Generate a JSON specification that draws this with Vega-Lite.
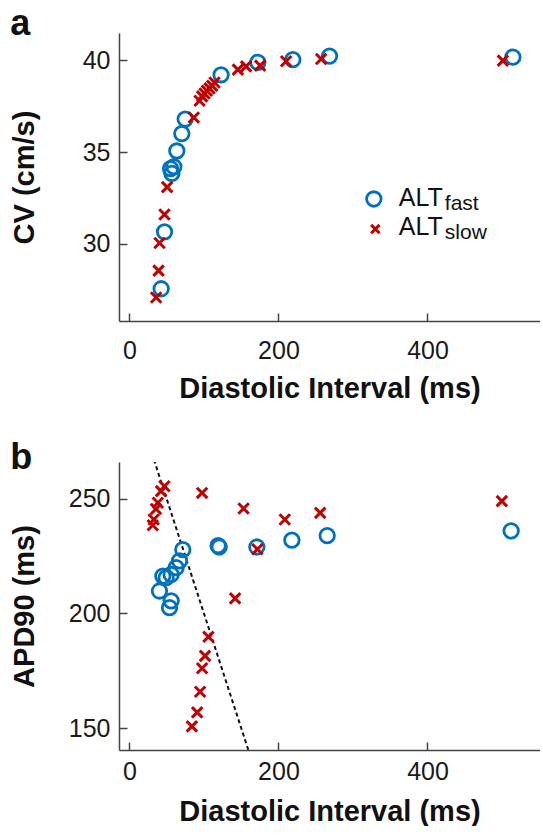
{
  "$schema": "https://vega.github.io/schema/vega-lite/v6.json",
  "padding": {"left": 10, "top": 6, "right": 0, "bottom": 0},
  "background": "white",
  "config": {
    "view": {"stroke": null},
    "font": "Liberation Sans",
    "axis": {
      "grid": false,
      "domainColor": "#444444",
      "domainWidth": 1.5,
      "tickColor": "#444444",
      "tickWidth": 1.5,
      "tickSize": -8,
      "labelFont": "Liberation Sans",
      "labelFontSize": 25,
      "labelColor": "#1a1a1a",
      "labelFlush": false,
      "labelOverlap": false,
      "titleFont": "Liberation Sans",
      "titleFontSize": 29,
      "titleFontWeight": "bold",
      "titleColor": "#111111"
    },
    "title": {"fontSize": 36, "fontWeight": "bold", "color": "#111111", "anchor": "start", "frame": "bounds", "font": "Liberation Sans"}
  },
  "datasets": {
    "cv": [
      {"series": "fast", "DI": 42.6, "CV": 27.54},
      {"series": "fast", "DI": 47.1, "CV": 30.65},
      {"series": "fast", "DI": 55.2, "CV": 34.1},
      {"series": "fast", "DI": 59.6, "CV": 34.2},
      {"series": "fast", "DI": 56.9, "CV": 33.84},
      {"series": "fast", "DI": 63.6, "CV": 35.06},
      {"series": "fast", "DI": 70.3, "CV": 36.01},
      {"series": "fast", "DI": 74.8, "CV": 36.8},
      {"series": "fast", "DI": 123, "CV": 39.22},
      {"series": "fast", "DI": 172.3, "CV": 39.9},
      {"series": "fast", "DI": 219.3, "CV": 40.05},
      {"series": "fast", "DI": 268.6, "CV": 40.24},
      {"series": "fast", "DI": 514.6, "CV": 40.18},
      {"series": "slow", "DI": 35.8, "CV": 27.06},
      {"series": "slow", "DI": 39.1, "CV": 28.53},
      {"series": "slow", "DI": 40.4, "CV": 30.04},
      {"series": "slow", "DI": 47.1, "CV": 31.59},
      {"series": "slow", "DI": 50.6, "CV": 33.09},
      {"series": "slow", "DI": 86.4, "CV": 36.89},
      {"series": "slow", "DI": 94.1, "CV": 37.8},
      {"series": "slow", "DI": 97.6, "CV": 38.04},
      {"series": "slow", "DI": 100.8, "CV": 38.2},
      {"series": "slow", "DI": 103.9, "CV": 38.35},
      {"series": "slow", "DI": 107.5, "CV": 38.48},
      {"series": "slow", "DI": 111, "CV": 38.62},
      {"series": "slow", "DI": 114.2, "CV": 38.8},
      {"series": "slow", "DI": 145.5, "CV": 39.5},
      {"series": "slow", "DI": 156.6, "CV": 39.68},
      {"series": "slow", "DI": 175.4, "CV": 39.72},
      {"series": "slow", "DI": 210.3, "CV": 39.96},
      {"series": "slow", "DI": 257.3, "CV": 40.08},
      {"series": "slow", "DI": 501.2, "CV": 39.99}
    ],
    "apd": [
      {"series": "fast", "DI": 40.3, "APD": 209.8},
      {"series": "fast", "DI": 44.8, "APD": 216.3},
      {"series": "fast", "DI": 49.3, "APD": 215.6},
      {"series": "fast", "DI": 53.8, "APD": 202.5},
      {"series": "fast", "DI": 56, "APD": 205.5},
      {"series": "fast", "DI": 56, "APD": 217},
      {"series": "fast", "DI": 62.7, "APD": 220},
      {"series": "fast", "DI": 67.2, "APD": 222.9},
      {"series": "fast", "DI": 71.6, "APD": 227.9},
      {"series": "fast", "DI": 119, "APD": 229.6},
      {"series": "fast", "DI": 120.5, "APD": 229},
      {"series": "fast", "DI": 171, "APD": 229},
      {"series": "fast", "DI": 218, "APD": 232},
      {"series": "fast", "DI": 265.4, "APD": 234},
      {"series": "fast", "DI": 512.3, "APD": 236},
      {"series": "slow", "DI": 31.3, "APD": 238.5},
      {"series": "slow", "DI": 32.6, "APD": 241},
      {"series": "slow", "DI": 35.7, "APD": 245.6},
      {"series": "slow", "DI": 38.1, "APD": 248.3},
      {"series": "slow", "DI": 42.4, "APD": 253.4},
      {"series": "slow", "DI": 47, "APD": 255.5},
      {"series": "slow", "DI": 83.8, "APD": 150.7},
      {"series": "slow", "DI": 90.9, "APD": 156.8},
      {"series": "slow", "DI": 94.8, "APD": 165.8},
      {"series": "slow", "DI": 97.5, "APD": 176.1},
      {"series": "slow", "DI": 101.5, "APD": 181.5},
      {"series": "slow", "DI": 106, "APD": 189.8},
      {"series": "slow", "DI": 97.5, "APD": 252.6},
      {"series": "slow", "DI": 141.8, "APD": 206.6},
      {"series": "slow", "DI": 153.2, "APD": 245.8},
      {"series": "slow", "DI": 171.7, "APD": 228},
      {"series": "slow", "DI": 208.5, "APD": 241},
      {"series": "slow", "DI": 256, "APD": 243.9},
      {"series": "slow", "DI": 499.8, "APD": 249}
    ],
    "cl": [
      {"DI": 30, "APD": 270},
      {"DI": 165, "APD": 135}
    ]
  },
  "spacing": 37,
  "vconcat": [
    {
      "width": 421,
      "height": 288,
      "title": {"text": "a", "offset": -32, "dy": 6, "baseline": "alphabetic"},
      "layer": [
        {
          "data": {"name": "cv"},
          "transform": [{"filter": "datum.series == 'fast'"}],
          "mark": {"type": "point", "shape": "circle", "filled": false, "size": 210, "strokeWidth": 2.8, "color": "#0072BD", "opacity": 1},
          "encoding": {
            "x": {"field": "DI", "type": "quantitative", "scale": {"domain": [-14, 551], "nice": false, "zero": false},
                  "axis": {"values": [0, 200, 400], "title": "Diastolic Interval (ms)", "labelPadding": 25, "titlePadding": 11}},
            "y": {"field": "CV", "type": "quantitative", "scale": {"domain": [25.78, 41.5], "nice": false, "zero": false},
                  "axis": {"values": [30, 35, 40], "title": "CV (cm/s)", "labelPadding": 17, "titlePadding": 43}}
          }
        },
        {
          "data": {"name": "cv"},
          "transform": [{"filter": "datum.series == 'slow'"}],
          "mark": {"type": "point", "shape": "M-1,-1L1,1M-1,1L1,-1", "filled": false, "size": 110, "strokeWidth": 3, "color": "#C00000", "opacity": 1},
          "encoding": {
            "x": {"field": "DI", "type": "quantitative"},
            "y": {"field": "CV", "type": "quantitative"}
          }
        },
        {
          "data": {"values": [{}]},
          "mark": {"type": "point", "shape": "circle", "filled": false, "size": 210, "strokeWidth": 2.8, "color": "#0072BD", "opacity": 1},
          "encoding": {"x": {"datum": 328}, "y": {"datum": 32.44}}
        },
        {
          "data": {"values": [{}]},
          "mark": {"type": "point", "shape": "M-1,-1L1,1M-1,1L1,-1", "filled": false, "size": 70, "strokeWidth": 3, "color": "#C00000", "opacity": 1},
          "encoding": {"x": {"datum": 330}, "y": {"datum": 30.8}}
        },
        {
          "data": {"values": [{}]},
          "mark": {"type": "text", "text": "ALT", "align": "left", "baseline": "alphabetic", "fontSize": 25, "color": "#111111"},
          "encoding": {"x": {"datum": 361.5}, "y": {"datum": 32.08}}
        },
        {
          "data": {"values": [{}]},
          "mark": {"type": "text", "text": "fast", "align": "left", "baseline": "alphabetic", "fontSize": 21, "dx": 46, "dy": 4, "color": "#111111"},
          "encoding": {"x": {"datum": 361.5}, "y": {"datum": 32.08}}
        },
        {
          "data": {"values": [{}]},
          "mark": {"type": "text", "text": "ALT", "align": "left", "baseline": "alphabetic", "fontSize": 25, "color": "#111111"},
          "encoding": {"x": {"datum": 361.5}, "y": {"datum": 30.45}}
        },
        {
          "data": {"values": [{}]},
          "mark": {"type": "text", "text": "slow", "align": "left", "baseline": "alphabetic", "fontSize": 21, "dx": 46, "dy": 4, "color": "#111111"},
          "encoding": {"x": {"datum": 361.5}, "y": {"datum": 30.45}}
        }
      ]
    },
    {
      "width": 421,
      "height": 288,
      "title": {"text": "b", "offset": -31, "dy": 12, "baseline": "alphabetic"},
      "layer": [
        {
          "data": {"name": "cl"},
          "mark": {"type": "line", "color": "#111111", "strokeWidth": 2, "strokeDash": [4, 3], "clip": true},
          "encoding": {
            "x": {"field": "DI", "type": "quantitative", "scale": {"domain": [-14, 551], "nice": false, "zero": false},
                  "axis": {"values": [0, 200, 400], "title": "Diastolic Interval (ms)", "labelPadding": 17, "titlePadding": 13}},
            "y": {"field": "APD", "type": "quantitative", "scale": {"domain": [140.4, 266.1], "nice": false, "zero": false},
                  "axis": {"values": [150, 200, 250], "title": "APD90 (ms)", "labelPadding": 17, "titlePadding": 29}}
          }
        },
        {
          "data": {"name": "apd"},
          "transform": [{"filter": "datum.series == 'fast'"}],
          "mark": {"type": "point", "shape": "circle", "filled": false, "size": 210, "strokeWidth": 2.8, "color": "#0072BD", "opacity": 1},
          "encoding": {
            "x": {"field": "DI", "type": "quantitative"},
            "y": {"field": "APD", "type": "quantitative"}
          }
        },
        {
          "data": {"name": "apd"},
          "transform": [{"filter": "datum.series == 'slow'"}],
          "mark": {"type": "point", "shape": "M-1,-1L1,1M-1,1L1,-1", "filled": false, "size": 110, "strokeWidth": 3, "color": "#C00000", "opacity": 1},
          "encoding": {
            "x": {"field": "DI", "type": "quantitative"},
            "y": {"field": "APD", "type": "quantitative"}
          }
        }
      ]
    }
  ]
}
